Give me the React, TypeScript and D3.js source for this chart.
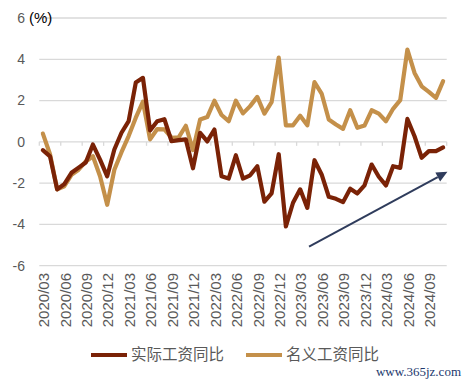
import React from "react";
import * as d3 from "d3";

const months: string[] = [
  "2020/03","2020/04","2020/05","2020/06","2020/07","2020/08","2020/09","2020/10","2020/11","2020/12",
  "2021/01","2021/02","2021/03","2021/04","2021/05","2021/06","2021/07","2021/08","2021/09","2021/10","2021/11","2021/12",
  "2022/01","2022/02","2022/03","2022/04","2022/05","2022/06","2022/07","2022/08","2022/09","2022/10","2022/11","2022/12",
  "2023/01","2023/02","2023/03","2023/04","2023/05","2023/06","2023/07","2023/08","2023/09","2023/10","2023/11","2023/12",
  "2024/01","2024/02","2024/03","2024/04","2024/05","2024/06","2024/07","2024/08","2024/09","2024/10","2024/11",
];

const realWage: number[] = [
  -0.4, -0.7, -2.3, -2.05, -1.5, -1.25, -1.0, -0.13, -0.86, -1.67,
  -0.37, 0.44, 1.0, 2.87, 3.1, 0.55, 1.0, 1.1, 0.03, 0.08, 0.12, -1.28,
  0.44, 0.02, 0.6, -1.67, -1.78, -0.65, -1.78, -1.62, -1.18, -2.9, -2.5, -0.6,
  -4.1, -2.95, -2.3, -3.2, -0.89, -1.58, -2.66, -2.76, -2.92, -2.27, -2.5, -2.11,
  -1.1, -1.69, -2.11, -1.18, -1.26, 1.11, 0.27, -0.77, -0.45, -0.45, -0.27,
];

const nominalWage: number[] = [
  0.4, -0.6, -2.3, -2.15, -1.6, -1.35, -0.95, -0.7, -1.67, -3.05,
  -1.35, -0.5, 0.28, 1.17, 1.95, 0.12, 0.62, 0.6, 0.2, 0.22, 0.78, -0.4,
  1.08, 1.2, 1.99, 1.3, 1.0, 1.99, 1.38, 1.73, 2.18, 1.37, 1.92, 4.08,
  0.8, 0.8, 1.27, 0.8, 2.89, 2.34, 1.08, 0.84, 0.63, 1.53, 0.68, 0.79,
  1.53, 1.37, 1.0, 1.6, 2.02, 4.47, 3.34, 2.69, 2.42, 2.13, 2.94,
];

const yTicks: number[] = [-6, -4, -2, 0, 2, 4, 6];
const seriesNames: string[] = ["实际工资同比", "名义工资同比"];
const seriesColors: string[] = ["#7A2206", "#C4904A"];
// trend arrow in (category position, value) units
const arrowFrom = { pos: 37.74, value: -5.08 };
const arrowTo = { pos: 57.1, value: -1.45 };

export default function App() {
  const W = 465, H = 379;
  const left = 39.3, right = 446.7, top = 18, bottom = 265.7;
  const x = d3.scaleBand<string>().domain(months).range([left, right]).padding(0);
  const bw = x.bandwidth();
  const cx = (m: string) => (x(m) as number) + bw / 2;
  const pos = d3.scaleLinear().domain([0, months.length]).range([left, right]);
  const y = d3.scaleLinear().domain([-6, 6]).range([bottom, top]);

  const line = d3.line<number>().x((_, i) => cx(months[i])).y((d) => y(d));
  const tickIdx = d3.range(0, months.length + 1, 3);
  const labelIdx = d3.range(0, months.length, 3);

  const ax1 = pos(arrowFrom.pos), ay1 = y(arrowFrom.value);
  const ax2 = pos(arrowTo.pos), ay2 = y(arrowTo.value);
  const ang = Math.atan2(ay2 - ay1, ax2 - ax1);
  const headL = 11, headW = 5;
  const bx = ax2 - headL * Math.cos(ang), by = ay2 - headL * Math.sin(ang);
  const head = [
    [ax2, ay2],
    [bx + headW * Math.sin(ang), by - headW * Math.cos(ang)],
    [bx - headW * Math.sin(ang), by + headW * Math.cos(ang)],
  ];

  const font = "'Liberation Sans', Arial, sans-serif";
  const cjk = "'Noto Sans CJK SC', sans-serif";

  return (
    <svg width={W} height={H} style={{ position: "absolute", left: 0, top: 0, background: "#fff" }}>
      {yTicks.map((t) => (
        <line key={"g" + t} x1={left} x2={right} y1={y(t)} y2={y(t)} stroke="#D9D9D9" strokeWidth={1.3} />
      ))}
      {tickIdx.map((i) => (
        <line key={"t" + i} x1={pos(i)} x2={pos(i)} y1={y(0)} y2={y(0) + 4} stroke="#D9D9D9" strokeWidth={1.3} />
      ))}
      {yTicks.map((t) => (
        <text key={"yl" + t} x={25} y={y(t)} dy="0.35em" textAnchor="end" fontSize={14} fontFamily={font} fill="#595959">
          {t}
        </text>
      ))}
      <text x={29} y={y(6)} dy="0.35em" fontSize={15} fontFamily={font} fill="#000">(%)</text>
      {labelIdx.map((i) => (
        <text
          key={"xl" + i}
          transform={`translate(${cx(months[i]) + 1},273) rotate(-90)`}
          dy="0.35em"
          textAnchor="end"
          fontSize={15}
          fontFamily={font}
          fill="#595959"
        >
          {months[i]}
        </text>
      ))}
      <path d={line(nominalWage) as string} fill="none" stroke={seriesColors[1]} strokeWidth={4.2} strokeLinejoin="round" strokeLinecap="round" />
      <path d={line(realWage) as string} fill="none" stroke={seriesColors[0]} strokeWidth={4.2} strokeLinejoin="round" strokeLinecap="round" />
      <line x1={ax1} y1={ay1} x2={bx} y2={by} stroke="#2F3C5C" strokeWidth={2} />
      <polygon points={head.map((p) => p.join(",")).join(" ")} fill="#2F3C5C" />
      {seriesNames.map((n, i) => {
        const lx = i === 0 ? 91 : 246;
        return (
          <g key={n}>
            <line x1={lx} x2={lx + 36} y1={355} y2={355} stroke={seriesColors[i]} strokeWidth={4} />
            <text x={lx + 40} y={355} dy="0.35em" fontSize={15.5} fontFamily={cjk} fill="#595959">{n}</text>
          </g>
        );
      })}
      <text x={461} y={376} textAnchor="end" fontSize={13} fontFamily="'Liberation Serif', serif" fill="#22386E">www.365jz.com</text>
    </svg>
  );
}
